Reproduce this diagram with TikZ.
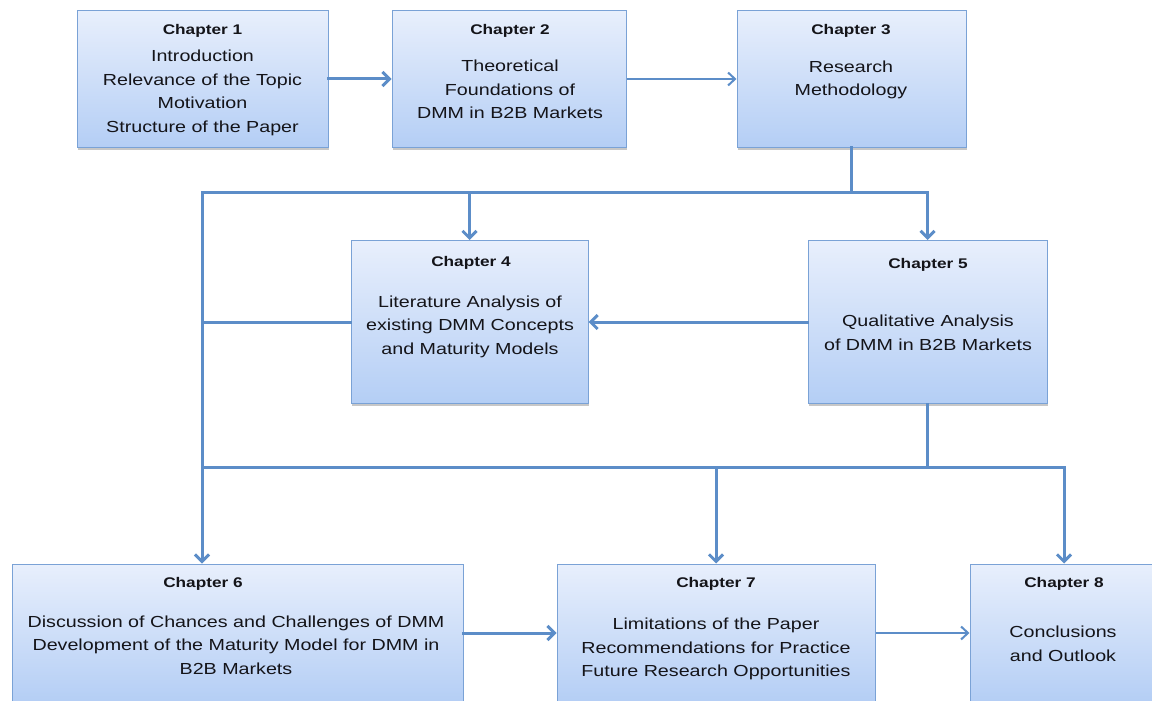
\documentclass[tikz,border=0pt]{standalone}
\usepackage{fontspec}
\setmainfont{Liberation Sans}[FakeStretch=1.23]
\usetikzlibrary{arrows.meta,shadows,calc}
\definecolor{boxtop}{RGB}{232,239,252}
\definecolor{boxbot}{RGB}{180,206,245}
\definecolor{boxedge}{RGB}{122,162,214}
\definecolor{connc}{RGB}{92,141,200}
\definecolor{txt}{RGB}{20,20,25}
\begin{document}
\begin{tikzpicture}[x=1pt,y=-1pt,
  chapbox/.style={rectangle, draw=boxedge, line width=1pt, top color=boxtop, bottom color=boxbot, inner sep=0pt,
    drop shadow={shadow xshift=1pt, shadow yshift=-2.5pt, fill=black, opacity=0.22}},
  chaptitle/.style={font=\fontsize{14}{16}\selectfont\bfseries, text=txt, inner sep=0pt},
  chapbody/.style={font=\fontsize{16}{23.5}\selectfont, text=txt, align=center, inner sep=0pt},
  link/.style={draw=connc, line width=3pt, line cap=rect},
  arr/.style={link, -{Straight Barb[length=7pt,width=14pt]}},
  thinarr/.style={draw=connc, line width=2pt, -{Straight Barb[length=7pt,width=13pt]}},
]
\useasboundingbox (0,0) rectangle (1152,701);
\clip (0,0) rectangle (1152,701);

% boxes
\node[chapbox, minimum width=251pt, minimum height=136pt] (b1) at (202.5,79) {};
\node[chapbox, minimum width=234pt, minimum height=136pt] (b2) at (509,79) {};
\node[chapbox, minimum width=229pt, minimum height=136pt] (b3) at (851.5,79) {};
\node[chapbox, minimum width=237pt, minimum height=163pt] (b4) at (469.5,322) {};
\node[chapbox, minimum width=239pt, minimum height=163pt] (b5) at (927.5,322) {};
\node[chapbox, minimum width=451pt, minimum height=138pt] (b6) at (237.5,633) {};
\node[chapbox, minimum width=318pt, minimum height=138pt] (b7) at (716,633) {};
\node[chapbox, minimum width=188pt, minimum height=138pt] (b8) at (1064,633) {};

% texts
\node[chaptitle] (t1) at (202.5,31) {Chapter 1};
\node[chapbody] (x1) at (202.5,93) {Introduction\\Relevance of the Topic\\Motivation\\Structure of the Paper};
\node[chaptitle] (t2) at (510,31) {Chapter 2};
\node[chapbody] (x2) at (510,89.5) {Theoretical\\Foundations of\\DMM in B2B Markets};
\node[chaptitle] (t3) at (851,31) {Chapter 3};
\node[chapbody] (x3) at (851,80) {Research\\Methodology};
\node[chaptitle] (t4) at (471,263) {Chapter 4};
\node[chapbody] (x4) at (470,326.5) {Literature Analysis of\\existing DMM Concepts\\and Maturity Models};
\node[chaptitle] (t5) at (928,265) {Chapter 5};
\node[chapbody] (x5) at (928,333) {Qualitative Analysis\\of DMM in B2B Markets};
\node[chaptitle] (t6) at (203,584) {Chapter 6};
\node[chapbody] (x6) at (236,645) {Discussion of Chances and Challenges of DMM\\Development of the Maturity Model for DMM in\\B2B Markets};
\node[chaptitle] (t7) at (716,584) {Chapter 7};
\node[chapbody] (x7) at (716,649) {Limitations of the Paper\\Recommendations for Practice\\Future Research Opportunities};
\node[chaptitle] (t8) at (1064,584) {Chapter 8};
\node[chapbody] (x8) at (1063,644) {Conclusions\\and Outlook};

% junction coordinates
\coordinate (jL1) at (202,192);
\coordinate (jL2) at (202,467);

% connectors
\draw[arr] (b1.east) -- (b2.west);
\draw[thinarr] (b2.east) -- (b3.west);
\draw[link] (b3.south) -- (b3.south |- jL1);
\draw[arr] (b5.north |- jL1) -- (jL1) -- (jL1 |- b6.north);
\draw[arr] (b4.north |- jL1) -- (b4.north);
\draw[arr] (b5.north |- jL1) -- (b5.north);
\draw[link] (b4.west) -- (jL1 |- b4.west);
\draw[arr] (b5.west) -- (b4.east);
\draw[link] (b5.south) -- (b5.south |- jL2);
\draw[arr] (jL2) -- (b8.north |- jL2) -- (b8.north);
\draw[arr] (b7.north |- jL2) -- (b7.north);
\draw[arr] (b6.east) -- (b7.west);
\draw[thinarr] (b7.east) -- (b8.west);
\end{tikzpicture}
\end{document}
